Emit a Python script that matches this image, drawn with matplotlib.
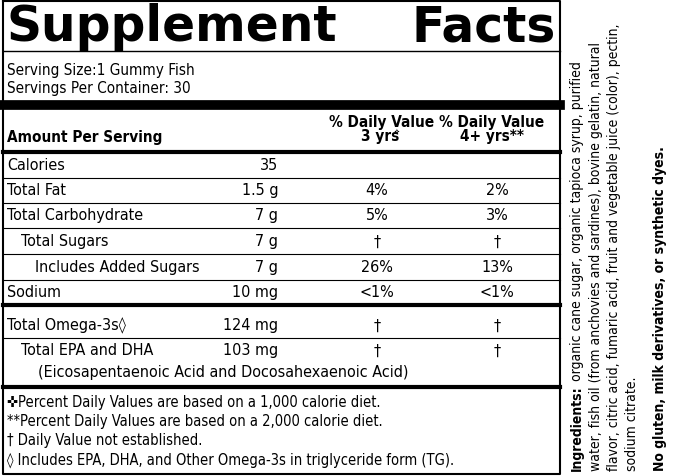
import matplotlib
matplotlib.use("Agg")
import matplotlib.pyplot as plt

FONT = ["DejaVu Sans"]
STRETCH = "condensed"

serving = ["Serving Size:1 Gummy Fish", "Servings Per Container: 30"]
rows = ["Calories", "Total Fat", "Total Carbohydrate", "Total Sugars",
        "Includes Added Sugars", "Sodium", "Total Omega-3s\u25ca", "Total EPA and DHA"]
indent = [0, 0, 0, 1, 2, 0, 0, 1]
amounts = ["35", "1.5 g", "7 g", "7 g", "7 g", "10 mg", "124 mg", "103 mg"]
dv3 = ["", "4%", "5%", "\u2020", "26%", "<1%", "\u2020", "\u2020"]
dv4 = ["", "2%", "3%", "\u2020", "13%", "<1%", "\u2020", "\u2020"]
footnotes = ["\u271cPercent Daily Values are based on a 1,000 calorie diet.",
             "**Percent Daily Values are based on a 2,000 calorie diet.",
             "\u2020 Daily Value not established.",
             "\u25ca Includes EPA, DHA, and Other Omega-3s in triglyceride form (TG)."]
ingredients = ["organic cane sugar, organic tapioca syrup, purified",
               "water, fish oil (from anchovies and sardines), bovine gelatin, natural",
               "flavor, citric acid, fumaric acid, fruit and vegetable juice (color), pectin,",
               "sodium citrate."]

fig = plt.figure(figsize=(6.79, 4.77), dpi=100)
ax = fig.add_axes([0, 0, 1, 1])
ax.set_xlim(0, 679)
ax.set_ylim(477, 0)
ax.axis("off")

L, R = 3, 560
ax.plot([L, R, R, L, L], [2, 2, 475, 475, 2], color="black", lw=1.5)

def t(x, y, s, size=11, ha="left", weight="normal", **kw):
    return ax.text(x, y, s, fontsize=size, ha=ha, va="center", weight=weight,
                   family=FONT, stretch=STRETCH, **kw)

ax.text(7, 27, "Supplement", fontsize=35, weight="heavy", va="center",
        family="DejaVu Sans")
ax.text(556, 27, "Facts", fontsize=35, weight="heavy", va="center", ha="right",
        family="DejaVu Sans")
ax.plot([L, R], [52, 52], color="black", lw=1)
t(7, 70, serving[0])
t(7, 88, serving[1])
ax.plot([L, R], [106, 106], color="black", lw=7)
t(7, 138, "Amount Per Serving", weight="bold")
t(382, 122, "% Daily Value", ha="center", weight="bold")
t(380, 137, "3 yrs", ha="center", weight="bold")
ax.text(397, 132, "\u2727", fontsize=5, ha="center", va="center", family="DejaVu Sans")
t(492, 122, "% Daily Value", ha="center", weight="bold")
t(492, 137, "4+ yrs**", ha="center", weight="bold")
ax.plot([L, R], [153, 153], color="black", lw=3)

ys = [166, 191, 216, 242, 268, 293, 326, 351]
for i, name in enumerate(rows):
    y = ys[i]
    t(7 + 14 * indent[i], y, name, size=11.5)
    t(278, y, amounts[i], ha="right", size=11.5)
    t(377, y, dv3[i], ha="center", size=11.5)
    t(497, y, dv4[i], ha="center", size=11.5)
    if i not in (5, 7):
        ax.plot([L, R], [y + 12.5, y + 12.5], color="black", lw=0.8)
ax.plot([L, R], [306, 306], color="black", lw=3)
t(38, 373, "(Eicosapentaenoic Acid and Docosahexaenoic Acid)", size=11.5)
ax.plot([L, R], [388, 388], color="black", lw=3)
for j, f in enumerate(footnotes):
    t(7, 403 + j * 19, f, size=10.5)

# rotated ingredient panel
xs = [577, 596, 614, 632]
rkw = dict(rotation=90, fontsize=10, ha="center", va="bottom", family=FONT,
           stretch=STRETCH)
b = ax.text(xs[0], 471, "Ingredients:", weight="bold", **rkw)
fig.canvas.draw()
h = b.get_window_extent(fig.canvas.get_renderer()).height
ax.text(xs[0], 471 - h - 4, ingredients[0], **rkw)
for x, s in zip(xs[1:], ingredients[1:]):
    ax.text(x, 471, s, **rkw)
ax.text(660, 471, "No gluten, milk derivatives, or synthetic dyes.", weight="bold", **rkw)

fig.savefig("out.png", dpi=100)
